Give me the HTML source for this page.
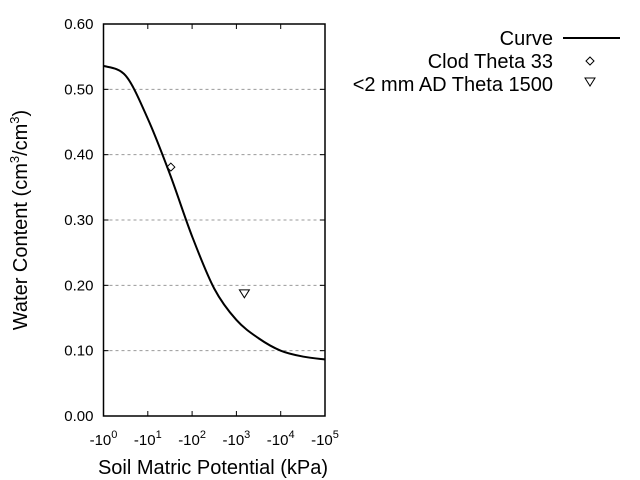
<!DOCTYPE html>
<html><head><meta charset="utf-8"><style>
body{margin:0;background:#fff;}
svg{display:block;font-family:"Liberation Sans",sans-serif;}
</style></head><body>
<svg id="chart" width="640" height="480">
<g id="grid"></g><g id="axes"></g><g id="series"></g>
<g>
<text x="553" y="45" font-size="20" text-anchor="end">Curve</text>
<line x1="563" y1="38" x2="620" y2="38" stroke="#000" stroke-width="2"/>
<text x="553" y="68" font-size="20" text-anchor="end">Clod Theta 33</text>
<path d="M590,57 L594,61 L590,65 L586,61 Z" fill="none" stroke="#000"/>
<text x="553" y="91" font-size="20" text-anchor="end">&lt;2 mm AD Theta 1500</text>
<path d="M585,78 L595,78 L590,86 Z" fill="none" stroke="#000"/>
</g>
<text x="213" y="474" font-size="20" text-anchor="middle">Soil Matric Potential (kPa)</text>
<text transform="translate(27,220) rotate(-90)" font-size="20" text-anchor="middle">Water Content (cm<tspan font-size="13" dy="-8">3</tspan><tspan dy="8">/cm</tspan><tspan font-size="13" dy="-8">3</tspan><tspan dy="8">)</tspan></text>
</svg>
<script>
const yTicks=[0,0.1,0.2,0.3,0.4,0.5,0.6];
const yTickLabels=["0.00","0.10","0.20","0.30","0.40","0.50","0.60"];
const xTicks=[0,1,2,3,4,5];
const curveLogH=[0,0.5,1,1.5,2,2.5,3,3.5,4,4.5,5];
const curveTheta=[0.536,0.521,0.455,0.37,0.275,0.195,0.147,0.119,0.100,0.091,0.0866];
const clodLogH=[1.52];const clodTheta=[0.381];
const adLogH=[3.18];const adTheta=[0.187];
const L=103.5,R=325,T=24,B=416;
const sx=v=>L+(R-L)*v/5;
const sy=v=>B-(B-T)*v/0.6;
const NS="http://www.w3.org/2000/svg";
function mk(p,t,a){const e=document.createElementNS(NS,t);for(const k in a)e.setAttribute(k,a[k]);p.appendChild(e);return e;}
const grid=document.getElementById('grid'),axes=document.getElementById('axes'),ser=document.getElementById('series');
yTicks.forEach((v,i)=>{
 const y=sy(v);
 if(v>0&&v<0.6){const g=mk(grid,'line',{x1:L,x2:R,y1:y,y2:y,stroke:'#999','stroke-dasharray':'3,3'});
 
 }
 const t1=mk(axes,'line',{x1:L,x2:L+5,y1:y,y2:y,stroke:'#000'});
 
 
 const t2=mk(axes,'line',{x1:R-5,x2:R,y1:y,y2:y,stroke:'#000'});
 
 
 const tx=mk(axes,'text',{x:L-10,y:y+5,'font-size':15,'text-anchor':'end'});tx.textContent=yTickLabels[i];
 
 
});
xTicks.forEach(v=>{
 const x=sx(v);
 const t1=mk(axes,'line',{x1:x,x2:x,y1:B,y2:B-5,stroke:'#000'});
 
 
 const t2=mk(axes,'line',{x1:x,x2:x,y1:T,y2:T+5,stroke:'#000'});
 
 
 const tx=mk(axes,'text',{x:x,y:B+29,'font-size':15,'text-anchor':'middle'});
 tx.innerHTML='-10<tspan font-size="11" dy="-7">'+v+'</tspan>';
 
 
});
const box=mk(axes,'rect',{x:L,y:T,width:R-L,height:B-T,fill:'none',stroke:'#000','stroke-width':1.5});


const pts=curveLogH.map((h,i)=>[sx(h),sy(curveTheta[i])]);
let d='M'+pts[0][0]+','+pts[0][1];
for(let i=0;i<pts.length-1;i++){
 const p0=pts[Math.max(0,i-1)],p1=pts[i],p2=pts[i+1],p3=pts[Math.min(pts.length-1,i+2)];
 d+=' C'+(p1[0]+(p2[0]-p0[0])/6)+','+(p1[1]+(p2[1]-p0[1])/6)+' '+(p2[0]-(p3[0]-p1[0])/6)+','+(p2[1]-(p3[1]-p1[1])/6)+' '+p2[0]+','+p2[1];
}
const c=mk(ser,'path',{d:d,fill:'none',stroke:'#000','stroke-width':2});


clodLogH.forEach((h,i)=>{const x=sx(h),y=sy(clodTheta[i]);
 const m=mk(ser,'path',{d:`M${x},${y-4} L${x+4},${y} L${x},${y+4} L${x-4},${y} Z`,fill:'none',stroke:'#000'});
 
 });
adLogH.forEach((h,i)=>{const x=sx(h),y=sy(adTheta[i]);
 const m=mk(ser,'path',{d:`M${x-5},${y-4} L${x+5},${y-4} L${x},${y+4} Z`,fill:'none',stroke:'#000'});
 
 });
</script>
</body></html>
